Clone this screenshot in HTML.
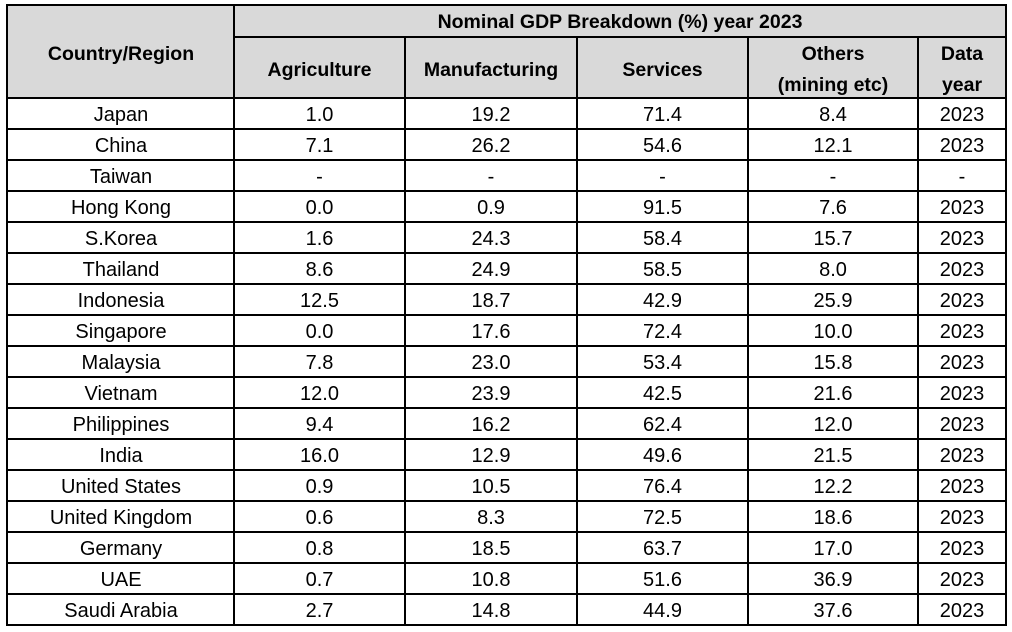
<!DOCTYPE html>
<html><head><meta charset="utf-8"><style>
html,body{margin:0;padding:0;background:#fff;width:1012px;height:632px;overflow:hidden}
svg{display:block}
text{font-family:"Liberation Sans",Arial,sans-serif;font-size:20px;fill:#000;text-anchor:middle}
.b{font-weight:bold;font-size:19.5px}
</style></head><body>
<svg width="1012" height="632" xmlns="http://www.w3.org/2000/svg">
<rect x="7" y="5" width="999" height="93" fill="#d9d9d9"/>
<g stroke="#000" stroke-width="2" fill="none">
<rect x="7" y="5" width="999" height="620"/>
<line x1="234" y1="37" x2="1006" y2="37"/>
<line x1="234" y1="5" x2="234" y2="625"/>
<line x1="405" y1="37" x2="405" y2="625"/>
<line x1="577" y1="37" x2="577" y2="625"/>
<line x1="748" y1="37" x2="748" y2="625"/>
<line x1="918" y1="37" x2="918" y2="625"/>
<line x1="7" y1="98" x2="1006" y2="98"/>
<line x1="7" y1="129" x2="1006" y2="129"/>
<line x1="7" y1="160" x2="1006" y2="160"/>
<line x1="7" y1="191" x2="1006" y2="191"/>
<line x1="7" y1="222" x2="1006" y2="222"/>
<line x1="7" y1="253" x2="1006" y2="253"/>
<line x1="7" y1="284" x2="1006" y2="284"/>
<line x1="7" y1="315" x2="1006" y2="315"/>
<line x1="7" y1="346" x2="1006" y2="346"/>
<line x1="7" y1="377" x2="1006" y2="377"/>
<line x1="7" y1="408" x2="1006" y2="408"/>
<line x1="7" y1="439" x2="1006" y2="439"/>
<line x1="7" y1="470" x2="1006" y2="470"/>
<line x1="7" y1="501" x2="1006" y2="501"/>
<line x1="7" y1="532" x2="1006" y2="532"/>
<line x1="7" y1="563" x2="1006" y2="563"/>
<line x1="7" y1="594" x2="1006" y2="594"/>
</g>
<text class="b" x="620" y="28">Nominal GDP Breakdown (%) year 2023</text>
<text class="b" x="121" y="60">Country/Region</text>
<text class="b" x="319.5" y="76">Agriculture</text>
<text class="b" x="491" y="76">Manufacturing</text>
<text class="b" x="662.5" y="76">Services</text>
<text class="b" x="833" y="60">Others</text>
<text class="b" x="833" y="91">(mining etc)</text>
<text class="b" x="962" y="60">Data</text>
<text class="b" x="962" y="91">year</text>
<g id="rows"></g>
</svg>
<script>
var d=[["Japan","1.0","19.2","71.4","8.4","2023"],["China","7.1","26.2","54.6","12.1","2023"],["Taiwan","-","-","-","-","-"],["Hong Kong","0.0","0.9","91.5","7.6","2023"],["S.Korea","1.6","24.3","58.4","15.7","2023"],["Thailand","8.6","24.9","58.5","8.0","2023"],["Indonesia","12.5","18.7","42.9","25.9","2023"],["Singapore","0.0","17.6","72.4","10.0","2023"],["Malaysia","7.8","23.0","53.4","15.8","2023"],["Vietnam","12.0","23.9","42.5","21.6","2023"],["Philippines","9.4","16.2","62.4","12.0","2023"],["India","16.0","12.9","49.6","21.5","2023"],["United States","0.9","10.5","76.4","12.2","2023"],["United Kingdom","0.6","8.3","72.5","18.6","2023"],["Germany","0.8","18.5","63.7","17.0","2023"],["UAE","0.7","10.8","51.6","36.9","2023"],["Saudi Arabia","2.7","14.8","44.9","37.6","2023"]];
var cx=[121,319.5,491,662.5,833,962],g=document.getElementById("rows"),s="";
d.forEach(function(r,i){var y=98+31*i+23;r.forEach(function(v,j){s+='<text x="'+cx[j]+'" y="'+y+'">'+v+'</text>';});});
g.innerHTML=s;
</script>
</body></html>
